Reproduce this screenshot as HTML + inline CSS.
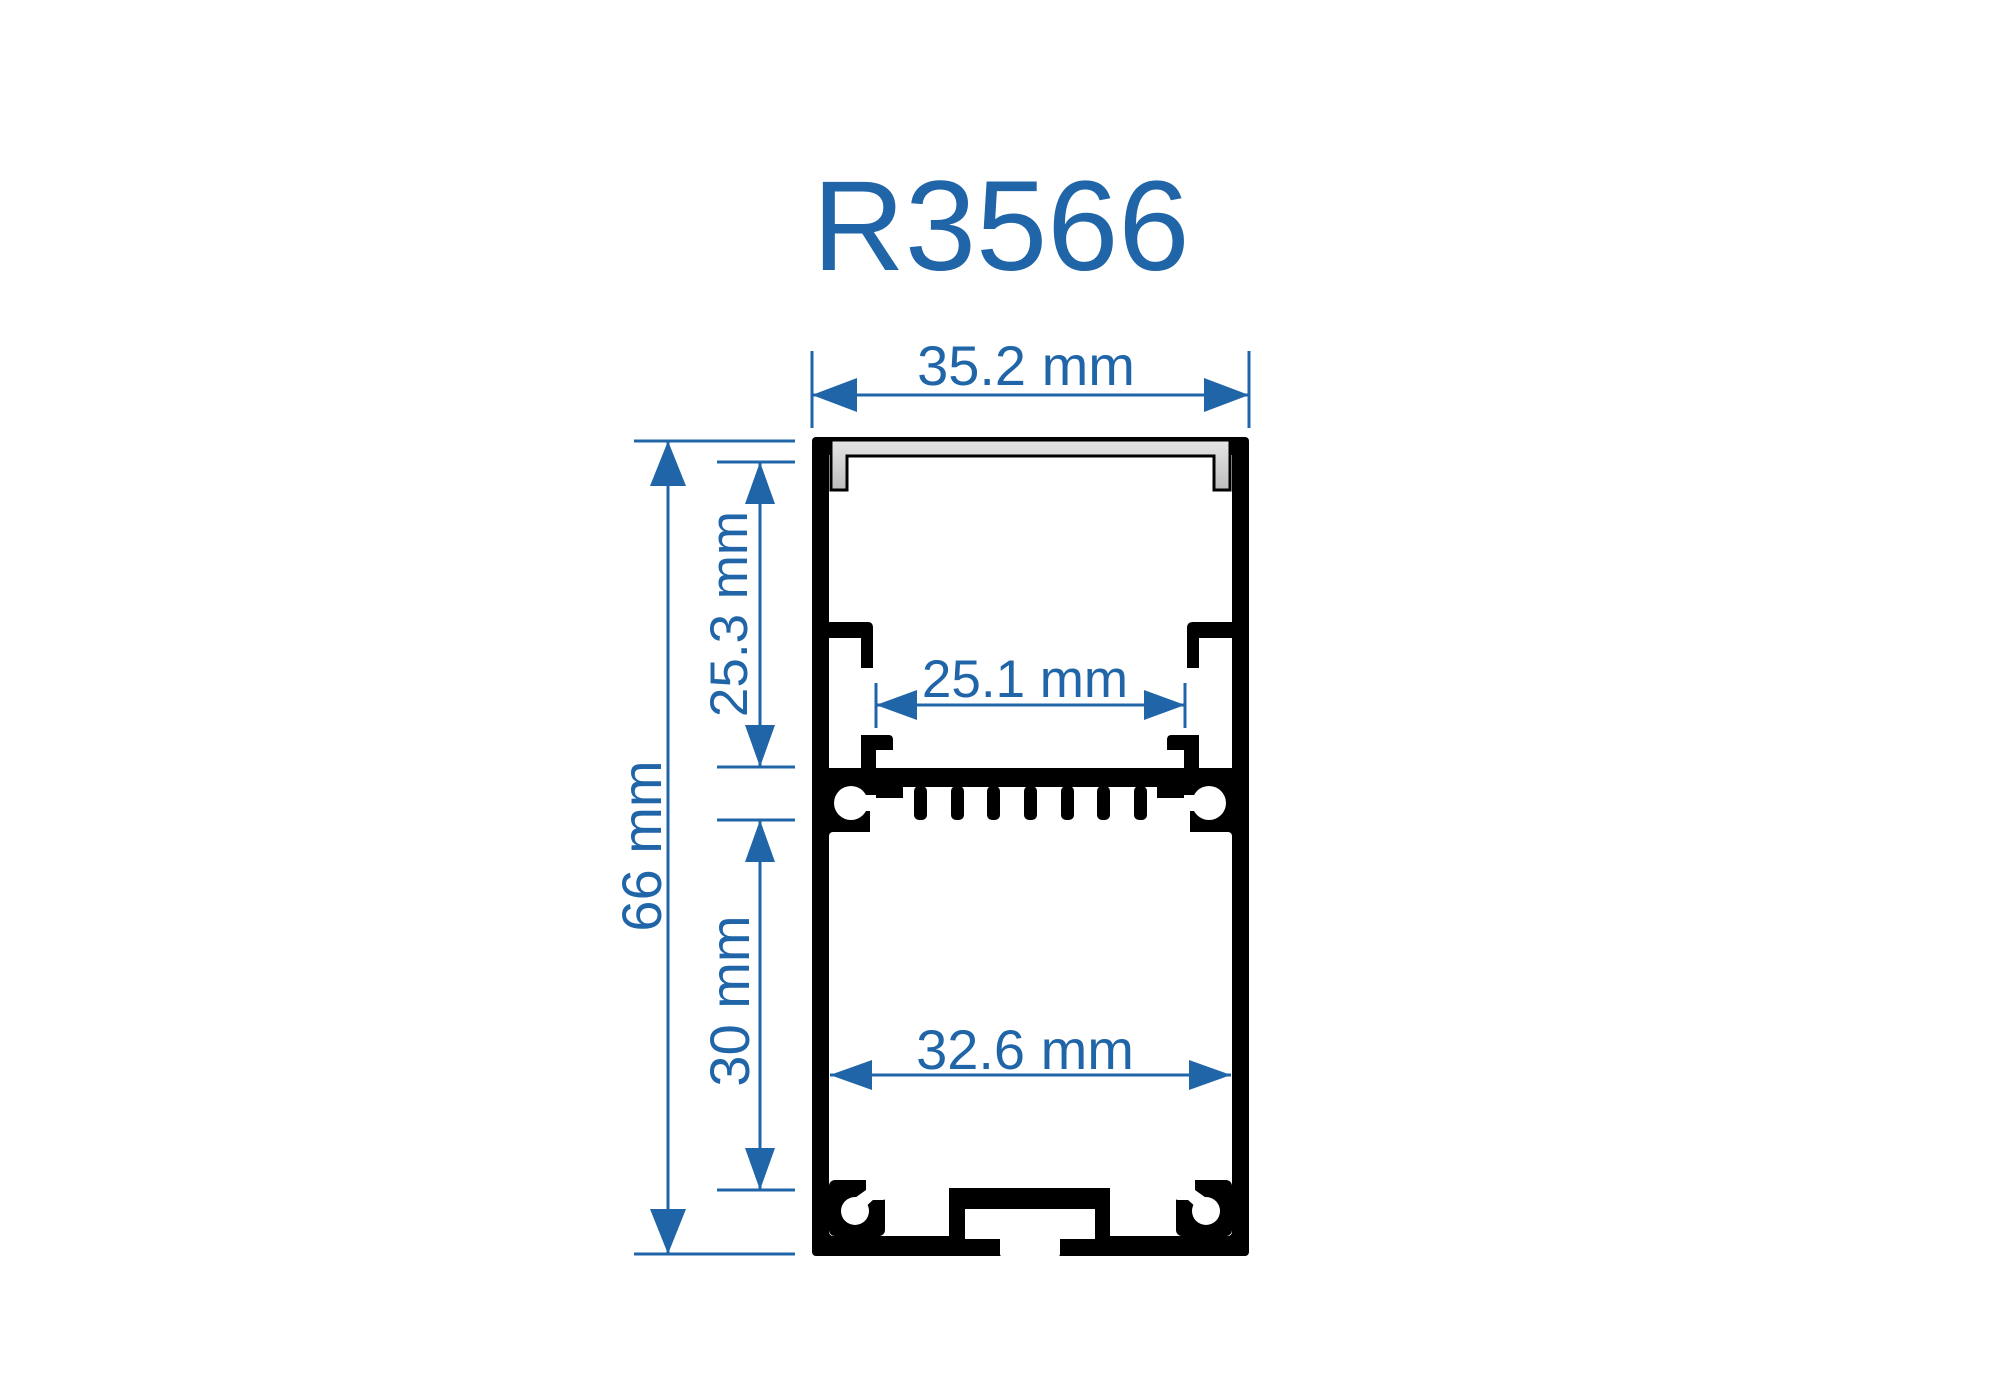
<!DOCTYPE html>
<html><head><meta charset="utf-8"><style>
html,body{margin:0;padding:0;background:#fff;}
svg{display:block;}
text{font-family:"Liberation Sans",sans-serif;fill:#2065a8;}
</style></head><body>
<svg width="2000" height="1400" viewBox="0 0 2000 1400" xmlns="http://www.w3.org/2000/svg">
<defs>
<linearGradient id="cap" x1="0" y1="0" x2="0" y2="1"><stop offset="0" stop-color="#e6e6e6"/><stop offset="1" stop-color="#bdbdbd"/></linearGradient>
<g id="claw">
<rect x="829" y="1180" width="56" height="56" rx="6" fill="#000"/>
<rect x="866" y="1174" width="22" height="26" rx="5" fill="#fff"/>
<circle cx="855" cy="1211" r="14" fill="#fff"/>
<polygon points="852,1200 866,1190 874,1199 862,1210" fill="#fff"/>
<rect x="829" y="1236" width="60" height="6" fill="#000"/>
</g>
</defs>
<text x="1001" y="270" font-size="128" text-anchor="middle">R3566</text>

<rect x="812" y="437" width="437" height="819" rx="4" fill="#000"/>
<rect x="829" y="455" width="403" height="313" fill="#fff"/>
<path d="M831 440 H1230 V490 H1214 V456 H847 V490 H831 Z" fill="url(#cap)" stroke="#000" stroke-width="3"/>
<path d="M829 622 H868 Q873 622 873 628 V668 H861 V638 H829 Z" fill="#000"/>
<path d="M1232 622 H1193 Q1187 622 1187 628 V668 H1199 V638 H1232 Z" fill="#000"/>
<path d="M861 768 V735 H889 Q893 735 893 740 V750 H876 V768 Z" fill="#000"/>
<path d="M1199 768 V735 H1171 Q1167 735 1167 740 V750 H1184 V768 Z" fill="#000"/>
<path d="M903 787 H1157 V798 H1190 V832 H870 V798 H903 Z" fill="#fff"/>
<circle cx="851" cy="803" r="17" fill="#fff"/>
<circle cx="1209" cy="803" r="17" fill="#fff"/>
<rect x="851" y="795" width="25" height="16" fill="#fff"/>
<rect x="1184" y="795" width="25" height="16" fill="#fff"/>
<g fill="#000">
<rect x="914" y="786" width="13" height="34" rx="5"/>
<rect x="951" y="786" width="13" height="34" rx="5"/>
<rect x="987" y="786" width="13" height="34" rx="5"/>
<rect x="1024" y="786" width="13" height="34" rx="5"/>
<rect x="1061" y="786" width="13" height="34" rx="5"/>
<rect x="1097" y="786" width="13" height="34" rx="5"/>
<rect x="1134" y="786" width="13" height="34" rx="5"/>
</g>
<rect x="829" y="832" width="403" height="404" rx="4" fill="#fff"/>
<rect x="949" y="1188" width="161" height="60" fill="#000"/>
<rect x="965" y="1209" width="130" height="30" fill="#fff"/>
<rect x="1000" y="1236" width="60" height="21" rx="3" fill="#fff"/>
<use href="#claw"/>
<use href="#claw" transform="translate(2061,0) scale(-1,1)"/>

<g stroke="#2065a8" stroke-width="3" fill="none">
<line x1="812" y1="351" x2="812" y2="428"/>
<line x1="1249" y1="351" x2="1249" y2="428"/>
<line x1="812" y1="395" x2="1249" y2="395"/>
<line x1="634" y1="441" x2="795" y2="441"/>
<line x1="634" y1="1254" x2="795" y2="1254"/>
<line x1="668" y1="441" x2="668" y2="1254"/>
<line x1="717" y1="462" x2="795" y2="462"/>
<line x1="717" y1="767" x2="795" y2="767"/>
<line x1="760" y1="462" x2="760" y2="767"/>
<line x1="717" y1="820" x2="795" y2="820"/>
<line x1="717" y1="1190" x2="795" y2="1190"/>
<line x1="760" y1="820" x2="760" y2="1190"/>
<line x1="876" y1="683" x2="876" y2="728"/>
<line x1="1185" y1="683" x2="1185" y2="728"/>
<line x1="876" y1="705" x2="1185" y2="705"/>
<line x1="830" y1="1075" x2="1231" y2="1075"/>
</g>
<g fill="#2065a8">
<polygon points="812,395 857,378 857,412"/>
<polygon points="1249,395 1204,378 1204,412"/>
<polygon points="668,441 650,486 686,486"/>
<polygon points="668,1254 650,1209 686,1209"/>
<polygon points="760,462 745,504 775,504"/>
<polygon points="760,767 745,725 775,725"/>
<polygon points="760,820 745,862 775,862"/>
<polygon points="760,1190 745,1148 775,1148"/>
<polygon points="876,705 917,690 917,720"/>
<polygon points="1185,705 1144,690 1144,720"/>
<polygon points="830,1075 872,1060 872,1090"/>
<polygon points="1231,1075 1189,1060 1189,1090"/>
</g>
<text x="1026" y="385" font-size="56" text-anchor="middle">35.2 mm</text>
<text x="1025" y="697" font-size="53" text-anchor="middle">25.1 mm</text>
<text x="1025" y="1069" font-size="56" text-anchor="middle">32.6 mm</text>
<text transform="translate(661,846) rotate(-90)" font-size="56" text-anchor="middle">66 mm</text>
<text transform="translate(747,614) rotate(-90)" font-size="53" text-anchor="middle">25.3 mm</text>
<text transform="translate(749,1001) rotate(-90)" font-size="56" text-anchor="middle">30 mm</text>
</svg>
</body></html>
